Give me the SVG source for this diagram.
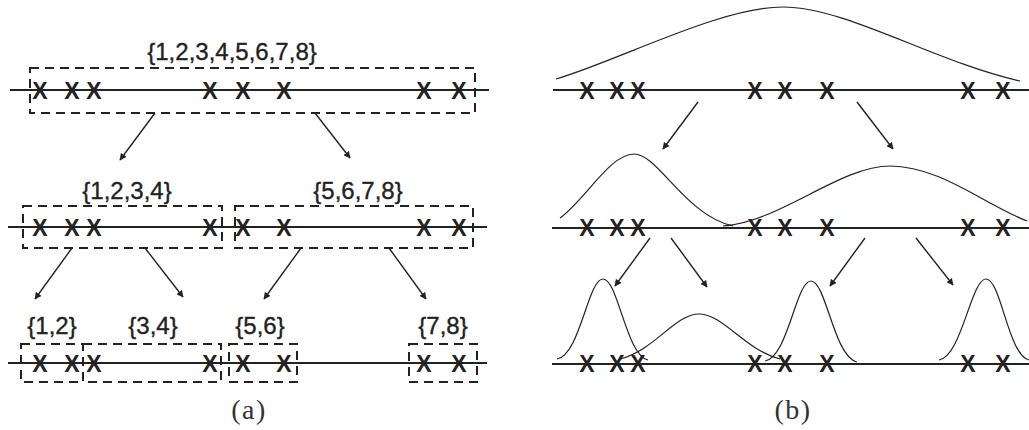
<svg xmlns="http://www.w3.org/2000/svg" width="1029" height="430" viewBox="0 0 1029 430">
<style>
.axis{stroke:#222;stroke-width:2;fill:none}
.box{stroke:#222;stroke-width:2;fill:none;stroke-dasharray:9,6}
.lbl{font-family:"Liberation Sans",Arial,sans-serif;font-size:24px;fill:#222;stroke:#222;stroke-width:0.35;text-anchor:middle}
.x{font-family:"Liberation Sans",Arial,sans-serif;font-size:23px;font-weight:bold;fill:#222;text-anchor:middle}
.cap{font-family:"Liberation Serif","DejaVu Serif",serif;font-size:28px;fill:#333;text-anchor:middle;letter-spacing:1.5px}
.conn{stroke:#222;stroke-width:1.4;fill:none;marker-end:url(#ah)}
.gauss{stroke:#222;stroke-width:1.2;fill:none}
</style>
<defs>
<marker id="ah" viewBox="0 0 10 10" refX="9" refY="5" markerWidth="7" markerHeight="7" markerUnits="userSpaceOnUse" orient="auto">
<path d="M0,0 L10,5 L0,10 z" fill="#222"/>
</marker>
</defs>
<rect width="1029" height="430" fill="#fff"/>

<!-- Panel (a) -->
<g id="a-axes">
<line class="axis" x1="10" y1="90" x2="489" y2="90"/>
<line class="axis" x1="8" y1="227" x2="487" y2="227"/>
<line class="axis" x1="8" y1="363" x2="487" y2="363"/>
</g>
<g id="a-points">
<text class="x" x="40" y="99">X</text><text class="x" x="72" y="99">X</text><text class="x" x="94" y="99">X</text><text class="x" x="210" y="99">X</text><text class="x" x="243" y="99">X</text><text class="x" x="284" y="99">X</text><text class="x" x="424" y="99">X</text><text class="x" x="459" y="99">X</text>
<text class="x" x="40" y="236">X</text><text class="x" x="72" y="236">X</text><text class="x" x="94" y="236">X</text><text class="x" x="210" y="236">X</text><text class="x" x="243" y="236">X</text><text class="x" x="284" y="236">X</text><text class="x" x="424" y="236">X</text><text class="x" x="459" y="236">X</text>
<text class="x" x="40" y="372">X</text><text class="x" x="72" y="372">X</text><text class="x" x="94" y="372">X</text><text class="x" x="210" y="372">X</text><text class="x" x="243" y="372">X</text><text class="x" x="284" y="372">X</text><text class="x" x="424" y="372">X</text><text class="x" x="459" y="372">X</text>
</g>
<g id="node-all">
<rect class="box" x="30" y="68" width="445" height="45"/>
<text class="lbl" x="232" y="60">{1,2,3,4,5,6,7,8}</text>
</g>
<g id="node-1234">
<rect class="box" x="23" y="206" width="199" height="42"/>
<text class="lbl" x="127" y="199">{1,2,3,4}</text>
</g>
<g id="node-5678">
<rect class="box" x="235" y="206" width="238" height="42"/>
<text class="lbl" x="358" y="199">{5,6,7,8}</text>
</g>
<g id="node-12">
<rect class="box" x="21" y="344" width="62" height="38"/>
<text class="lbl" x="52" y="334">{1,2}</text>
</g>
<g id="node-34">
<rect class="box" x="83" y="344" width="138" height="38"/>
<text class="lbl" x="153" y="334">{3,4}</text>
</g>
<g id="node-56">
<rect class="box" x="229" y="344" width="68" height="38"/>
<text class="lbl" x="260" y="334">{5,6}</text>
</g>
<g id="node-78">
<rect class="box" x="409" y="344" width="68" height="38"/>
<text class="lbl" x="443" y="334">{7,8}</text>
</g>
<text class="cap" x="249" y="419">(a)</text>

<!-- Panel (b) -->
<g id="b-axes">
<line class="axis" x1="553" y1="90" x2="1029" y2="90"/>
<line class="axis" x1="552" y1="228" x2="1029" y2="228"/>
<line class="axis" x1="552" y1="364" x2="1029" y2="364"/>
</g>
<g id="b-points">
<text class="x" x="587" y="99">X</text><text class="x" x="617" y="99">X</text><text class="x" x="638" y="99">X</text><text class="x" x="755" y="99">X</text><text class="x" x="785" y="99">X</text><text class="x" x="827" y="99">X</text><text class="x" x="968" y="99">X</text><text class="x" x="1003" y="99">X</text>
<text class="x" x="587" y="236">X</text><text class="x" x="617" y="236">X</text><text class="x" x="638" y="236">X</text><text class="x" x="755" y="236">X</text><text class="x" x="785" y="236">X</text><text class="x" x="827" y="236">X</text><text class="x" x="968" y="236">X</text><text class="x" x="1003" y="236">X</text>
<text class="x" x="587" y="372">X</text><text class="x" x="617" y="372">X</text><text class="x" x="638" y="372">X</text><text class="x" x="755" y="372">X</text><text class="x" x="785" y="372">X</text><text class="x" x="827" y="372">X</text><text class="x" x="968" y="372">X</text><text class="x" x="1003" y="372">X</text>
</g>
<g id="gauss-all">
<path class="gauss" d="M556,79 C620,60 720,7 783,7 C846,7 935,62 1020,81"/>
</g>
<g id="gauss-1234">
<path class="gauss" d="M560,218 C585,200 610,154 634,154 C658,154 685,215 733,226"/>
</g>
<g id="gauss-5678">
<path class="gauss" d="M723,226 C780,222 840,166 890,166 C940,166 985,205 1027,221"/>
</g>
<g id="gauss-12">
<path class="gauss" d="M557,359 C580,355 588,279 603,279 C618,279 626,355 648,360"/>
</g>
<g id="gauss-34">
<path class="gauss" d="M620,359 C655,350 675,314 699,314 C723,314 745,350 780,359"/>
</g>
<g id="gauss-56">
<path class="gauss" d="M765,361 C788,357 796,281 811,281 C826,281 834,357 857,362"/>
</g>
<g id="gauss-78">
<path class="gauss" d="M939,360 C962,356 971,279 986,279 C1001,279 1008,355 1029,360"/>
</g>
<text class="cap" x="793" y="419">(b)</text>

<g id="connectors">
<line class="conn" x1="155" y1="113" x2="120" y2="160"/>
<line class="conn" x1="315" y1="113" x2="350" y2="158"/>
<line class="conn" x1="72" y1="248" x2="35" y2="299"/>
<line class="conn" x1="145" y1="248" x2="183" y2="297"/>
<line class="conn" x1="301" y1="248" x2="264" y2="299"/>
<line class="conn" x1="389" y1="248" x2="426" y2="299"/>
<line class="conn" x1="698" y1="102" x2="663" y2="149"/>
<line class="conn" x1="857" y1="102" x2="893" y2="149"/>
<line class="conn" x1="650" y1="238" x2="615" y2="286"/>
<line class="conn" x1="671" y1="238" x2="707" y2="287"/>
<line class="conn" x1="865" y1="238" x2="830" y2="286"/>
<line class="conn" x1="916" y1="238" x2="953" y2="285"/>
</g>
</svg>
